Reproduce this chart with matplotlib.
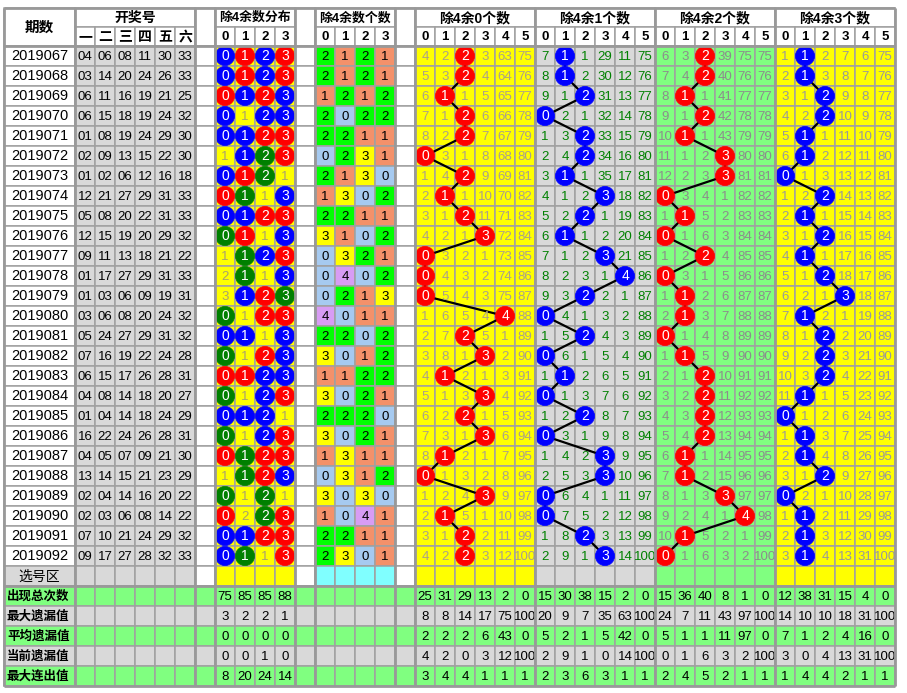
import matplotlib
matplotlib.use('Agg')
import matplotlib.pyplot as plt
from matplotlib.patches import Rectangle, Circle

plt.rcParams['font.family'] = ['Liberation Sans', 'Noto Sans CJK SC']

# ---- data ----
issues = ['2019067', '2019068', '2019069', '2019070', '2019071', '2019072',
          '2019073', '2019074', '2019075', '2019076', '2019077', '2019078',
          '2019079', '2019080', '2019081', '2019082', '2019083', '2019084',
          '2019085', '2019086', '2019087', '2019088', '2019089', '2019090',
          '2019091', '2019092']

draws = [[4, 6, 8, 11, 30, 33], [3, 14, 20, 24, 26, 33], [6, 11, 16, 19, 21, 25],
         [6, 15, 18, 19, 24, 32], [1, 8, 19, 24, 29, 30], [2, 9, 13, 15, 22, 30],
         [1, 2, 6, 12, 16, 18], [12, 21, 27, 29, 31, 33], [5, 8, 20, 22, 31, 33],
         [12, 15, 19, 20, 29, 32], [9, 11, 13, 18, 21, 22], [1, 17, 27, 29, 31, 33],
         [1, 3, 6, 9, 19, 31], [3, 6, 8, 20, 24, 32], [5, 24, 27, 29, 31, 32],
         [7, 16, 19, 22, 24, 28], [6, 15, 17, 26, 28, 31], [4, 8, 14, 18, 20, 27],
         [1, 4, 14, 18, 24, 29], [16, 22, 24, 26, 28, 31], [4, 5, 7, 9, 21, 30],
         [13, 14, 15, 21, 23, 29], [2, 4, 14, 16, 20, 22], [2, 3, 6, 8, 14, 22],
         [7, 10, 21, 24, 29, 32], [9, 17, 27, 28, 32, 33]]

# how many numbers with remainder 0/1/2/3 (the 除4余数个数 block)
cnt_r0 = [2, 2, 1, 2, 2, 0, 2, 1, 2, 3, 0, 0, 0, 4, 2, 3, 1, 3, 2, 3, 1, 0, 3, 1, 2, 2]
cnt_r1 = [1, 1, 2, 0, 2, 2, 1, 3, 2, 1, 3, 4, 2, 0, 2, 0, 1, 0, 2, 0, 3, 3, 0, 0, 2, 3]
cnt_r2 = [2, 2, 1, 2, 1, 3, 3, 0, 1, 0, 2, 0, 1, 1, 0, 1, 2, 2, 2, 2, 1, 1, 3, 4, 1, 0]
cnt_r3 = [1, 1, 2, 2, 1, 1, 0, 2, 1, 2, 1, 2, 3, 1, 2, 2, 2, 1, 0, 1, 1, 2, 0, 1, 1, 1]

# omission values shown in the first row (2019067) of each 个数 block
first_miss0 = [4, 2, 0, 3, 63, 75]
first_miss1 = [7, 0, 1, 29, 11, 75]
first_miss2 = [6, 3, 0, 39, 75, 75]
first_miss3 = [1, 0, 2, 7, 6, 75]

stat_labels = ['出现总次数', '最大遗漏值', '平均遗漏值', '当前遗漏值', '最大连出值']
stat_dist = [[75, 85, 85, 88], [3, 2, 2, 1], [0, 0, 0, 0], [0, 0, 1, 0], [8, 20, 24, 14]]
stat_sec0 = [[25, 31, 29, 13, 2, 0], [8, 8, 14, 17, 75, 100], [2, 2, 2, 6, 43, 0],
             [4, 2, 0, 3, 12, 100], [3, 4, 4, 1, 1, 1]]
stat_sec1 = [[15, 30, 38, 15, 2, 0], [20, 9, 7, 35, 63, 100], [5, 2, 1, 5, 42, 0],
             [2, 9, 1, 0, 14, 100], [2, 3, 6, 3, 1, 1]]
stat_sec2 = [[15, 36, 40, 8, 1, 0], [24, 7, 11, 43, 97, 100], [5, 1, 1, 11, 97, 0],
             [0, 1, 6, 3, 2, 100], [2, 4, 5, 2, 1, 1]]
stat_sec3 = [[12, 38, 31, 15, 4, 0], [14, 10, 10, 18, 31, 100], [7, 1, 2, 4, 16, 0],
             [3, 0, 4, 13, 31, 100], [1, 4, 4, 2, 1, 1]]

counts = [cnt_r0, cnt_r1, cnt_r2, cnt_r3]
firsts = [first_miss0, first_miss1, first_miss2, first_miss3]
sec_stats = [stat_sec0, stat_sec1, stat_sec2, stat_sec3]
sec_titles = ['除4余0个数', '除4余1个数', '除4余2个数', '除4余3个数']

# ---- colours ----
GRID = '#a0a0a0'
YELLOW = '#ffff00'
GRAYBG = '#d9d9d9'
LGREEN = '#80ff80'
CYAN = '#80ffff'
RED = '#ff0000'
BLUE = '#0000ff'
GREEN = '#008000'
cnt_colors = {0: '#a6caf0', 1: '#f4916a', 2: '#00ff00', 3: '#ffff00', 4: '#d89cf4'}
sec_bg = [YELLOW, GRAYBG, LGREEN, YELLOW]
sec_txt = ['#aaa08a', '#008000', '#8c8c8c', '#999999']
sec_ball = [RED, BLUE, RED, BLUE]

# ---- layout (pixels) ----
CW = 20
X_LAB = (4, 75)
X_DRAW = 75
X_GAP1 = 195
X_DIST = 215
X_GAP2 = 295
X_CNT = 315
X_GAP3 = 395
X_SEC = 415
Y_TOP, Y_MID, Y_DATA = 8, 27, 46
RH = 20
n = len(issues)
Y_XUAN = Y_DATA + n * RH
Y_STAT = Y_XUAN + RH
Y_END = Y_STAT + 5 * RH

fig = plt.figure(figsize=(9.07, 6.93), dpi=100)
ax = fig.add_axes([0, 0, 1, 1])
ax.set_xlim(0, 907)
ax.set_ylim(693, 0)
ax.axis('off')

NUM = dict(fontsize=9.5)


def cell(x0, x1, y0, y1, fc, text=None, color='black', **kw):
    ax.add_patch(Rectangle((x0, y0), x1 - x0, y1 - y0, facecolor=fc,
                           edgecolor=GRID, lw=1.1, zorder=1))
    if text is not None:
        ax.text((x0 + x1) / 2, (y0 + y1) / 2 + 0.5, text, ha='center', va='center',
                color=color, zorder=5, **kw)


def ball(xc, yc, fc, text):
    ax.add_patch(Circle((xc, yc), 9.6, facecolor=fc, edgecolor=fc, lw=0.5, zorder=4))
    ax.text(xc, yc + 0.5, text, ha='center', va='center', color='white',
            fontsize=10, zorder=5)


def misses(first, cnt, ncol):
    rows = []
    cur = list(first)
    for i, c in enumerate(cnt):
        if i > 0:
            cur = [0 if j == c else cur[j] + 1 for j in range(ncol)]
        rows.append(cur)
    return rows


# ---- header ----
HB = dict(fontsize=10, fontweight='bold')
cell(X_LAB[0], X_LAB[1], Y_TOP, Y_DATA, 'white', '期数', fontsize=10.5, fontweight='bold')
cell(X_DRAW, X_DRAW + 6 * CW, Y_TOP, Y_MID, 'white', '开奖号', **HB)
for j, t in enumerate(['一', '二', '三', '四', '五', '六']):
    cell(X_DRAW + j * CW, X_DRAW + (j + 1) * CW, Y_MID, Y_DATA, 'white', t, **HB)
for g in (X_GAP1, X_GAP2, X_GAP3):
    cell(g, g + CW, Y_TOP, Y_DATA, 'white')
cell(X_DIST, X_DIST + 4 * CW, Y_TOP, Y_MID, 'white', '除4余数分布',
     fontsize=9.3, fontweight='bold')
cell(X_CNT, X_CNT + 4 * CW, Y_TOP, Y_MID, 'white', '除4余数个数',
     fontsize=9.3, fontweight='bold')
for j in range(4):
    cell(X_DIST + j * CW, X_DIST + (j + 1) * CW, Y_MID, Y_DATA, 'white', str(j),
         fontsize=9.5, fontweight='bold')
    cell(X_CNT + j * CW, X_CNT + (j + 1) * CW, Y_MID, Y_DATA, 'white', str(j),
         fontsize=9.5, fontweight='bold')
for s in range(4):
    xs0 = X_SEC + s * 6 * CW
    cell(xs0, xs0 + 6 * CW, Y_TOP, Y_MID, 'white', sec_titles[s], **HB)
    for j in range(6):
        cell(xs0 + j * CW, xs0 + (j + 1) * CW, Y_MID, Y_DATA, 'white', str(j),
             fontsize=9.5, fontweight='bold')

# ---- data rows ----
dist_miss = [0, 0, 0, 0]
sec_rows = [misses(firsts[s], counts[s], 6) for s in range(4)]
for i in range(n):
    y0 = Y_DATA + i * RH
    y1 = y0 + RH
    yc = (y0 + y1) / 2
    cell(X_LAB[0], X_LAB[1], y0, y1, 'white', issues[i], fontsize=10.5)
    for j, v in enumerate(draws[i]):
        cell(X_DRAW + j * CW, X_DRAW + (j + 1) * CW, y0, y1, GRAYBG, '%02d' % v, **NUM)
    for g in (X_GAP1, X_GAP2, X_GAP3):
        cell(g, g + CW, y0, y1, 'white')
    for r in range(4):
        c = counts[r][i]
        x0 = X_DIST + r * CW
        cell(x0, x0 + CW, y0, y1, YELLOW)
        if c > 0:
            dist_miss[r] = 0
            col = RED if c == 1 else (BLUE if c == 2 else GREEN)
            ball(x0 + CW / 2, yc, col, str(r))
        else:
            dist_miss[r] += 1
            ax.text(x0 + CW / 2, yc + 0.5, str(dist_miss[r]), ha='center', va='center',
                    color='#a8a070', zorder=5, **NUM)
        x0 = X_CNT + r * CW
        cell(x0, x0 + CW, y0, y1, cnt_colors[c], str(c), **NUM)
    for s in range(4):
        xs0 = X_SEC + s * 6 * CW
        for j in range(6):
            x0 = xs0 + j * CW
            if counts[s][i] == j:
                cell(x0, x0 + CW, y0, y1, sec_bg[s])
            else:
                cell(x0, x0 + CW, y0, y1, sec_bg[s], str(sec_rows[s][i][j]),
                     color=sec_txt[s], **NUM)

# hit balls with connecting lines
for s in range(4):
    xs0 = X_SEC + s * 6 * CW
    px = [xs0 + counts[s][i] * CW + CW / 2 for i in range(n)]
    py = [Y_DATA + i * RH + RH / 2 for i in range(n)]
    ax.plot(px, py, color='black', lw=1.6, zorder=3)
    for i in range(n):
        ball(px[i], py[i], sec_ball[s], str(counts[s][i]))

# ---- 选号区 row ----
y0, y1 = Y_XUAN, Y_XUAN + RH
cell(X_LAB[0], X_LAB[1], y0, y1, GRAYBG, '选号区', fontsize=10)
for j in range(6):
    cell(X_DRAW + j * CW, X_DRAW + (j + 1) * CW, y0, y1, GRAYBG)
for g in (X_GAP1, X_GAP2, X_GAP3):
    cell(g, g + CW, y0, y1, 'white')
for j in range(4):
    cell(X_DIST + j * CW, X_DIST + (j + 1) * CW, y0, y1, YELLOW)
    cell(X_CNT + j * CW, X_CNT + (j + 1) * CW, y0, y1, CYAN)
for s in range(4):
    for j in range(6):
        x0 = X_SEC + s * 6 * CW + j * CW
        cell(x0, x0 + CW, y0, y1, sec_bg[s])

# ---- statistics rows ----
for k, lab in enumerate(stat_labels):
    y0 = Y_STAT + k * RH
    y1 = y0 + RH
    bg = LGREEN if k % 2 == 0 else GRAYBG
    ax.add_patch(Rectangle((X_LAB[0], y0), X_LAB[1] - X_LAB[0], RH, facecolor=bg,
                           edgecolor=GRID, lw=1.1, zorder=1))
    ax.text(X_LAB[0] + 3, (y0 + y1) / 2 + 0.5, lab, ha='left', va='center',
            fontsize=9, fontweight='bold', zorder=5)
    for j in range(6):
        cell(X_DRAW + j * CW, X_DRAW + (j + 1) * CW, y0, y1, bg)
    for g in (X_GAP1, X_GAP2, X_GAP3):
        cell(g, g + CW, y0, y1, bg)
    for j in range(4):
        cell(X_DIST + j * CW, X_DIST + (j + 1) * CW, y0, y1, bg, str(stat_dist[k][j]), **NUM)
        cell(X_CNT + j * CW, X_CNT + (j + 1) * CW, y0, y1, bg)
    for s in range(4):
        for j in range(6):
            x0 = X_SEC + s * 6 * CW + j * CW
            cell(x0, x0 + CW, y0, y1, bg, str(sec_stats[s][k][j]), **NUM)

# ---- heavier section borders ----
vx = [X_LAB[0], X_LAB[1], X_GAP1, X_DIST, X_GAP2, X_CNT, X_GAP3] + \
     [X_SEC + s * 6 * CW for s in range(5)]
ax.vlines(vx, Y_TOP, Y_END, color='#999999', lw=2.0, zorder=6)
ax.hlines([Y_TOP, Y_DATA, Y_STAT, Y_END], X_LAB[0], X_SEC + 24 * CW,
          color='#999999', lw=2.0, zorder=6)

fig.savefig('out.png', dpi=100)
